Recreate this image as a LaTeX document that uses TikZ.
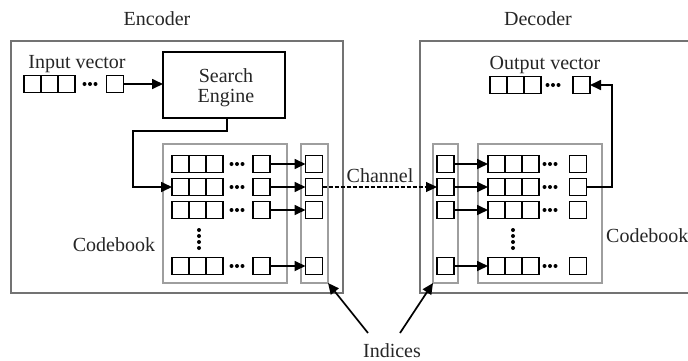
\documentclass[tikz,border=0pt]{standalone}
\usepackage{fontspec}
\setmainfont{Liberation Serif}
\usetikzlibrary{arrows.meta}

\tikzset{
  cell/.style={draw=black, line width=1.7pt, minimum width=17pt, minimum height=17pt,
               inner sep=0pt, outer sep=0pt},
  outerbox/.style={draw=black!55, line width=1.4pt, inner sep=0pt, outer sep=0pt},
  cbbox/.style={draw=black!38, line width=2pt, inner sep=0pt, outer sep=0pt},
  sebox/.style={draw=black, line width=1.7pt, inner sep=0pt, outer sep=0pt,
                minimum width=122pt, minimum height=66pt},
  arr/.style={line width=1.7pt, -{Triangle[length=11pt,width=10pt]}},
  chan/.style={line width=1.1pt, dash pattern=on 4pt off 2pt, -{Triangle[length=11pt,width=10pt]}},
  lbl/.style={anchor=base, text=black!85, inner sep=0pt}
}

% one vector: three adjacent cells, a run of dots, and a last cell
% #1 name, #2 left edge, #3 centre y, #4 last cell centre x, #5 dots centre x
\newcommand\cellrow[5]{%
  \node[cell] (#1-1) at (#2+8.5,#3) {};
  \node[cell,anchor=west] (#1-2) at (#1-1.east) {};
  \node[cell,anchor=west] (#1-3) at (#1-2.east) {};
  \coordinate (#1-dots) at (#5,#3);
  \foreach \d in {-5.5,0,5.5} \fill ([xshift=\d pt]#1-dots) circle (2pt);
  \node[cell] (#1-4) at (#4,#3) {};
}

\begin{document}
\begin{tikzpicture}[x=1pt,y=-1pt,font=\fontsize{20}{22}\selectfont]
\clip (0,0) rectangle (688,360);
\fill[white] (0,0) rectangle (688,360);

% ---- titles and outer frames
\node[lbl] (enc) at (157,25) {Encoder};
\node[lbl] (dec) at (538,25) {Decoder};
\node[outerbox, minimum width=332pt, minimum height=252pt] (encbox) at (177,167) {};
\node[outerbox, minimum width=290pt, minimum height=252pt] (decbox) at (565,167) {};

% ---- encoder
\node[lbl] (inlab) at (77,68) {Input vector};
\cellrow{in}{24}{84}{115}{90}

\node[sebox] (se) at (224,85) {};
\node[lbl] (se1) at (226,82) {Search};
\node[lbl] (se2) at (226,102) {Engine};
\draw[arr] (in-4.east) -- (in-4.east -| se.west);

\node[cbbox, minimum width=124pt, minimum height=139pt] (ecb) at (225,213.5) {};
\node[cbbox, minimum width=27pt, minimum height=139pt] (eidx) at (314.5,213.5) {};
\foreach \r/\y in {1/164,2/187,3/210,4/266}{
  \cellrow{e\r}{172}{\y}{261.5}{237}
  \node[cell] (ei\r) at (314,\y) {};
  \draw[arr] (e\r-4.east) -- (ei\r.west);
}
\foreach \v in {230,236,242,248} \fill (199,\v) circle (2pt);
\node[lbl] (ecl) at (114,251) {Codebook};

\coordinate (bend) at (133,131);
\draw[arr] ([xshift=3pt]se.south) |- (bend) |- (e2-1.west);

% ---- decoder
\node[cbbox, minimum width=25pt, minimum height=139pt] (didx) at (445.5,213.5) {};
\node[cbbox, minimum width=124pt, minimum height=139pt] (dcb) at (540,213.5) {};
\foreach \r/\y in {1/164,2/187,3/210,4/266}{
  \node[cell] (di\r) at (445.5,\y) {};
  \cellrow{d\r}{488}{\y}{578}{550}
  \draw[arr] (di\r.east) -- (d\r-1.west);
}
\foreach \v in {230,236,242,248} \fill (513,\v) circle (2pt);
\node[lbl, anchor=base west] (dcl) at (606,242) {Codebook};

\node[lbl] (outlab) at (545,69) {Output vector};
\cellrow{out}{490}{85}{581.5}{553}
\coordinate (oturn) at (612,85);
\draw[arr] (d2-4.east) -| (oturn) -- (out-4.east);

% ---- channel between the two index columns
\draw[chan] (ei2.east) -- (di2.west);
\node[lbl] (chl) at (380,182) {Channel};

% ---- indices
\node[lbl] (ind) at (392,357) {Indices};
\coordinate (it1) at (368,333);
\coordinate (it2) at (400,333);
\draw[arr] (it1) -- (eidx.south east);
\draw[arr] (it2) -- (didx.south west);
\end{tikzpicture}
\end{document}
